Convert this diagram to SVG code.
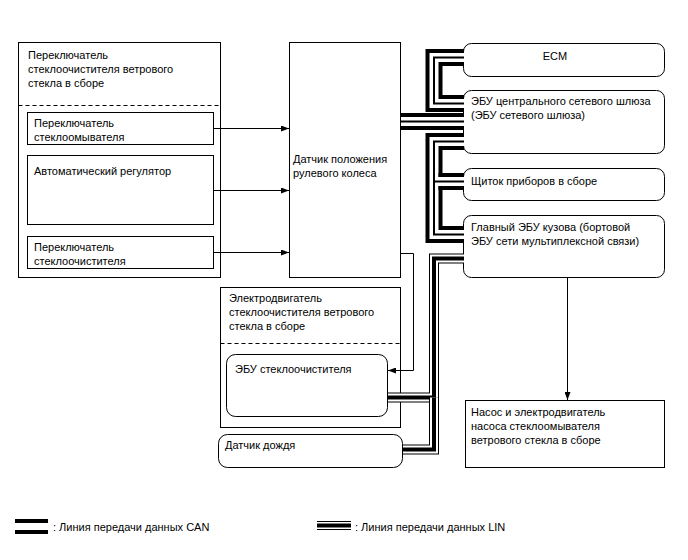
<svg xmlns="http://www.w3.org/2000/svg" width="688" height="560" viewBox="0 0 688 560">
<defs>
<marker id="ah" viewBox="0 0 8 6" refX="8" refY="3" markerWidth="8" markerHeight="6" markerUnits="userSpaceOnUse" orient="auto">
<path d="M0,0 L8,3 L0,6 Z" fill="#000"/>
</marker>
</defs>
<style>
text{font-family:"Liberation Sans",Arial,sans-serif;font-size:11px;fill:#000}
.box{fill:#fff;stroke:#000;stroke-width:1}
.dash{stroke:#000;stroke-width:1;stroke-dasharray:4,3;fill:none}
.ln{stroke:#000;stroke-width:1;fill:none}
.c1{stroke:#000;stroke-width:17;fill:none;stroke-linejoin:miter}
.c2{stroke:#fff;stroke-width:9;fill:none;stroke-linejoin:miter}
.c3{stroke:#000;stroke-width:2;fill:none;stroke-linejoin:miter}
.l1{stroke:#000;stroke-width:10;fill:none;stroke-linejoin:miter}
.l2{stroke:#fff;stroke-width:8;fill:none;stroke-linejoin:miter}
.l3{stroke:#000;stroke-width:4;fill:none;stroke-linejoin:miter}
</style>

<g id="wiper-switch-assy">
<rect class="box" x="18.5" y="42.5" width="202" height="235"/>
<text x="28" y="59">Переключатель</text>
<text x="28" y="73">стеклоочистителя ветрового</text>
<text x="28" y="87">стекла в сборе</text>
<line class="dash" x1="18.5" y1="105.5" x2="220.5" y2="105.5"/>
</g>
<g id="washer-switch">
<rect class="box" x="27.5" y="112.5" width="186" height="32"/>
<text x="34" y="127">Переключатель</text>
<text x="34" y="141">стеклоомывателя</text>
</g>
<g id="auto-regulator">
<rect class="box" x="27.5" y="155.5" width="186" height="69"/>
<text x="34" y="175">Автоматический регулятор</text>
</g>
<g id="wiper-switch">
<rect class="box" x="27.5" y="236.5" width="186" height="32"/>
<text x="34" y="251">Переключатель</text>
<text x="34" y="265">стеклоочистителя</text>
</g>

<g id="steering-sensor">
<rect class="box" x="289.5" y="42.5" width="111" height="235"/>
<text x="293" y="163">Датчик положения</text>
<text x="293" y="177">рулевого колеса</text>
</g>

<g id="ecm">
<rect class="box" x="463.5" y="43.5" width="201" height="33" rx="8"/>
<text x="555" y="60" text-anchor="middle">ECM</text>
</g>
<g id="gateway">
<rect class="box" x="463.5" y="90.5" width="201" height="63" rx="8"/>
<text x="471" y="105">ЭБУ центрального сетевого шлюза</text>
<text x="471" y="119">(ЭБУ сетевого шлюза)</text>
</g>
<g id="combination-meter">
<rect class="box" x="463.5" y="168.5" width="201" height="32" rx="8"/>
<text x="471" y="185">Щиток приборов в сборе</text>
</g>
<g id="main-body-ecu">
<rect class="box" x="463.5" y="215.5" width="201" height="62" rx="8"/>
<text x="471" y="231">Главный ЭБУ кузова (бортовой</text>
<text x="471" y="245">ЭБУ сети мультиплексной связи)</text>
</g>
<g id="washer-pump">
<rect class="box" x="465.5" y="400.5" width="199" height="67"/>
<text x="471" y="416">Насос и электродвигатель</text>
<text x="471" y="430">насоса стеклоомывателя</text>
<text x="471" y="444">ветрового стекла в сборе</text>
</g>

<g id="wiper-motor-assy">
<rect class="box" x="220.5" y="287.5" width="180" height="140"/>
<text x="229" y="302">Электродвигатель</text>
<text x="229" y="316">стеклоочистителя ветрового</text>
<text x="229" y="330">стекла в сборе</text>
<line class="dash" x1="220.5" y1="343.5" x2="400.5" y2="343.5"/>
</g>
<g id="wiper-ecu">
<rect class="box" x="226.5" y="354.5" width="161" height="62" rx="9"/>
<text x="235" y="373">ЭБУ стеклоочистителя</text>
</g>
<g id="rain-sensor">
<rect class="box" x="218.5" y="434.5" width="184" height="33" rx="9"/>
<text x="225" y="449">Датчик дождя</text>
</g>

<g id="connectors">
<line class="ln" x1="213.5" y1="128.5" x2="289" y2="128.5" marker-end="url(#ah)"/>
<line class="ln" x1="213.5" y1="190.5" x2="289" y2="190.5" marker-end="url(#ah)"/>
<line class="ln" x1="213.5" y1="252.5" x2="289" y2="252.5" marker-end="url(#ah)"/>
<path class="ln" d="M400.5,253.5 H413.5 V370.5 H388" marker-end="url(#ah)"/>
<line class="ln" x1="567.5" y1="278" x2="567.5" y2="400" marker-end="url(#ah)"/>

<path class="c1" d="M464,57.5 H434 V103.5 H464"/>
<path class="c2" d="M464,57.5 H434 V103.5 H464"/>
<path class="c3" d="M464,57.5 H434 V103.5 H464"/>
<path class="c1" d="M401,121.5 H464"/>
<path class="c2" d="M401,121.5 H464"/>
<path class="c3" d="M401,121.5 H464"/>
<path class="c1" d="M464,141.5 H434 V234.5 H464"/>
<path class="c2" d="M464,141.5 H434 V234.5 H464"/>
<path class="c3" d="M464,141.5 H434 V234.5 H464"/>
<rect x="436" y="177" width="28" height="9" fill="#fff"/>
<rect x="438.5" y="173" width="25.5" height="4" fill="#000"/>
<rect x="438.5" y="186" width="25.5" height="4" fill="#000"/>
<rect x="434" y="180.5" width="30" height="2" fill="#000"/>

<path class="l1" d="M464,258.5 H434 V397.5 H388"/>
<path class="l2" d="M464,258.5 H434 V397.5 H388"/>
<path class="l3" d="M464,258.5 H434 V397.5 H388"/>
<path class="l1" d="M434,397.5 V449.5 H403"/>
<path class="l2" d="M434,397.5 V449.5 H403"/>
<path class="l3" d="M434,397.5 V449.5 H403"/>
</g>

<g id="legend">
<rect x="15" y="519" width="33" height="4" fill="#000"/>
<rect x="15" y="530" width="33" height="4" fill="#000"/>
<text x="53" y="531">: Линия передачи данных CAN</text>
<line x1="317" y1="521.5" x2="351" y2="521.5" stroke="#000" stroke-width="1"/>
<line x1="317" y1="525.5" x2="351" y2="525.5" stroke="#000" stroke-width="4"/>
<line x1="317" y1="529.5" x2="351" y2="529.5" stroke="#000" stroke-width="1"/>
<text x="355" y="531">: Линия передачи данных LIN</text>
</g>
</svg>
